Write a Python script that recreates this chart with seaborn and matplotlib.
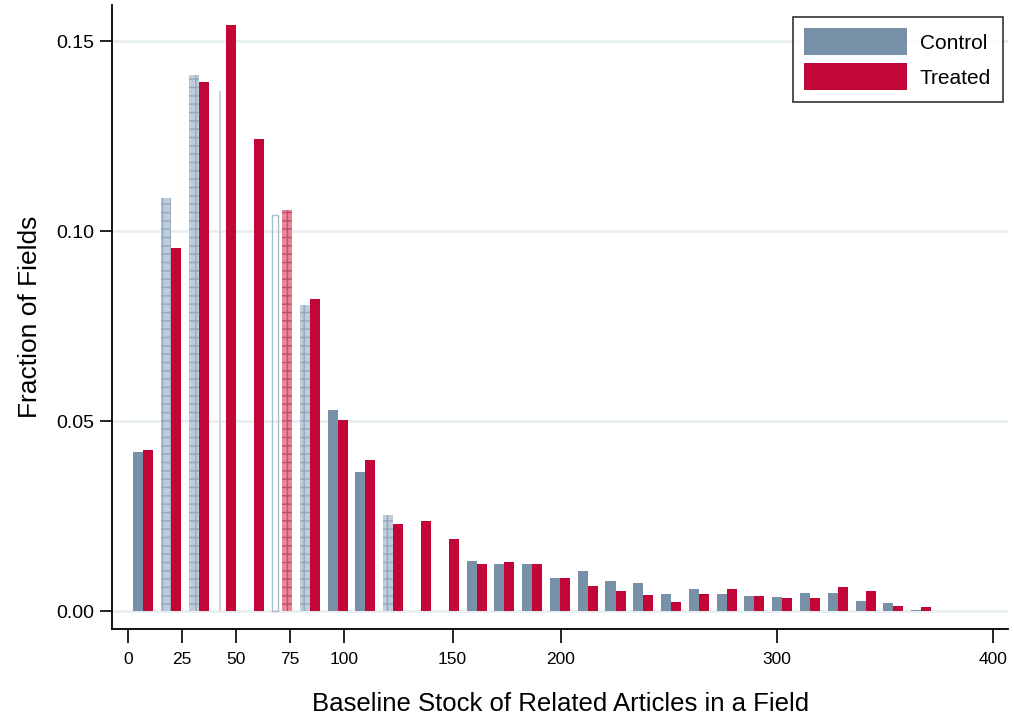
import numpy as np
import pandas as pd
import matplotlib
matplotlib.use('Agg')
import matplotlib.pyplot as plt
import seaborn as sns

# bin centres (stock of related articles)
bins = [6.9, 19.75, 32.6, 45.45, 58.3, 71.15, 84.0, 96.85, 109.7, 122.55,
        135.4, 148.25, 161.1, 173.95, 186.8, 199.65, 212.5, 225.35, 238.2, 251.05,
        263.9, 276.75, 289.6, 302.45, 315.3, 328.15, 341.0, 353.85, 366.7, 379.55]

control = [0.0420, 0.1088, 0.1410, 0.1368, 0.0, 0.1042, 0.0805, 0.0530, 0.0366, 0.0253,
           0.0, 0.0, 0.0132, 0.0126, 0.0126, 0.0087, 0.0105, 0.0079, 0.0076, 0.0045,
           0.0060, 0.0045, 0.0040, 0.0037, 0.0048, 0.0048, 0.0027, 0.0021, 0.0004, 0.0002]

treated = [0.0425, 0.0955, 0.1393, 0.1543, 0.1243, 0.1055, 0.0822, 0.0503, 0.0397, 0.0231,
           0.0237, 0.0191, 0.0125, 0.0129, 0.0124, 0.0089, 0.0068, 0.0055, 0.0042, 0.0026,
           0.0045, 0.0058, 0.0040, 0.0034, 0.0034, 0.0063, 0.0055, 0.0013, 0.0011, 0.0]

xticks = [0, 25, 50, 75, 100, 150, 200, 300, 400]
yticks = [0.00, 0.05, 0.10, 0.15]

df = pd.DataFrame({
    'stock': bins * 2,
    'frac': control + treated,
    'group': ['Control'] * len(bins) + ['Treated'] * len(bins),
})

sns.set_theme(style='white')
plt.rcParams['font.family'] = ['Liberation Sans', 'DejaVu Sans']
plt.rcParams['text.color'] = 'black'
plt.rcParams['axes.labelcolor'] = 'black'
plt.rcParams['xtick.color'] = 'black'
plt.rcParams['ytick.color'] = 'black'

fig = plt.figure(figsize=(10.14, 7.2), dpi=100)
ax = fig.add_axes([0.1105, 0.126, 0.884, 0.867])

ax.set_axisbelow(True)
ax.yaxis.grid(True, color='#e8eff1', linewidth=2)

sns.barplot(data=df, x='stock', y='frac', hue='group', native_scale=True,
            palette={'Control': '#7890a8', 'Treated': '#c20637'},
            width=0.72, errorbar=None, saturation=1, linewidth=0, ax=ax)

ctrl_bars = ax.containers[0]
trt_bars = ax.containers[1]

# textured bars as in the original export
for i in [1, 2, 6, 9]:
    p = ctrl_bars[i]
    p.set_facecolor('#bfccd9')
    p.set_hatch('++')
    p.set_edgecolor('#94a8bd')
p = trt_bars[5]
p.set_facecolor('#e8879c')
p.set_hatch('++')
p.set_edgecolor('#c94a68')

# faint ghost marks where the control bars are nearly invisible
p = ctrl_bars[3]
p.set_x(p.get_x() + 1.4)
p.set_width(0.9)
p.set_facecolor('#c9d5df')
p = ctrl_bars[5]
p.set_x(p.get_x() + 0.2)
p.set_width(2.4)
p.set_facecolor('none')
p.set_edgecolor('#a9bccd')
p.set_linewidth(1.0)

ax.set_xlim(-7.4, 407)
ax.set_ylim(-0.0047, 0.1595)
ax.set_xticks(xticks)
ax.set_xticklabels([str(t) for t in xticks], fontsize=12.5)
ax.set_yticks(yticks)
ax.set_yticklabels(['%.2f' % t for t in yticks], fontsize=14)
ax.tick_params(axis='x', length=10, width=1.2, color='black', pad=6, bottom=True)
ax.tick_params(axis='y', length=9, width=1.2, color='black', pad=4, left=True)

for s in ['top', 'right']:
    ax.spines[s].set_visible(False)
for s in ['left', 'bottom']:
    ax.spines[s].set_color('black')
    ax.spines[s].set_linewidth(1.3)

ax.set_xlabel('Baseline Stock of Related Articles in a Field', fontsize=18.5, labelpad=18)
ax.set_ylabel('Fraction of Fields', fontsize=19, labelpad=10)

leg = ax.legend(loc='upper right', bbox_to_anchor=(0.9935, 0.981), fontsize=15,
                frameon=True, fancybox=False, handlelength=4.95, handleheight=1.6,
                handletextpad=0.6, borderpad=0.55, labelspacing=0.4,
                borderaxespad=0)
leg.get_frame().set_edgecolor('black')
leg.get_frame().set_linewidth(1.2)
for h in leg.legend_handles:
    h.set_hatch(None)

fig.savefig('out.png', dpi=100)
